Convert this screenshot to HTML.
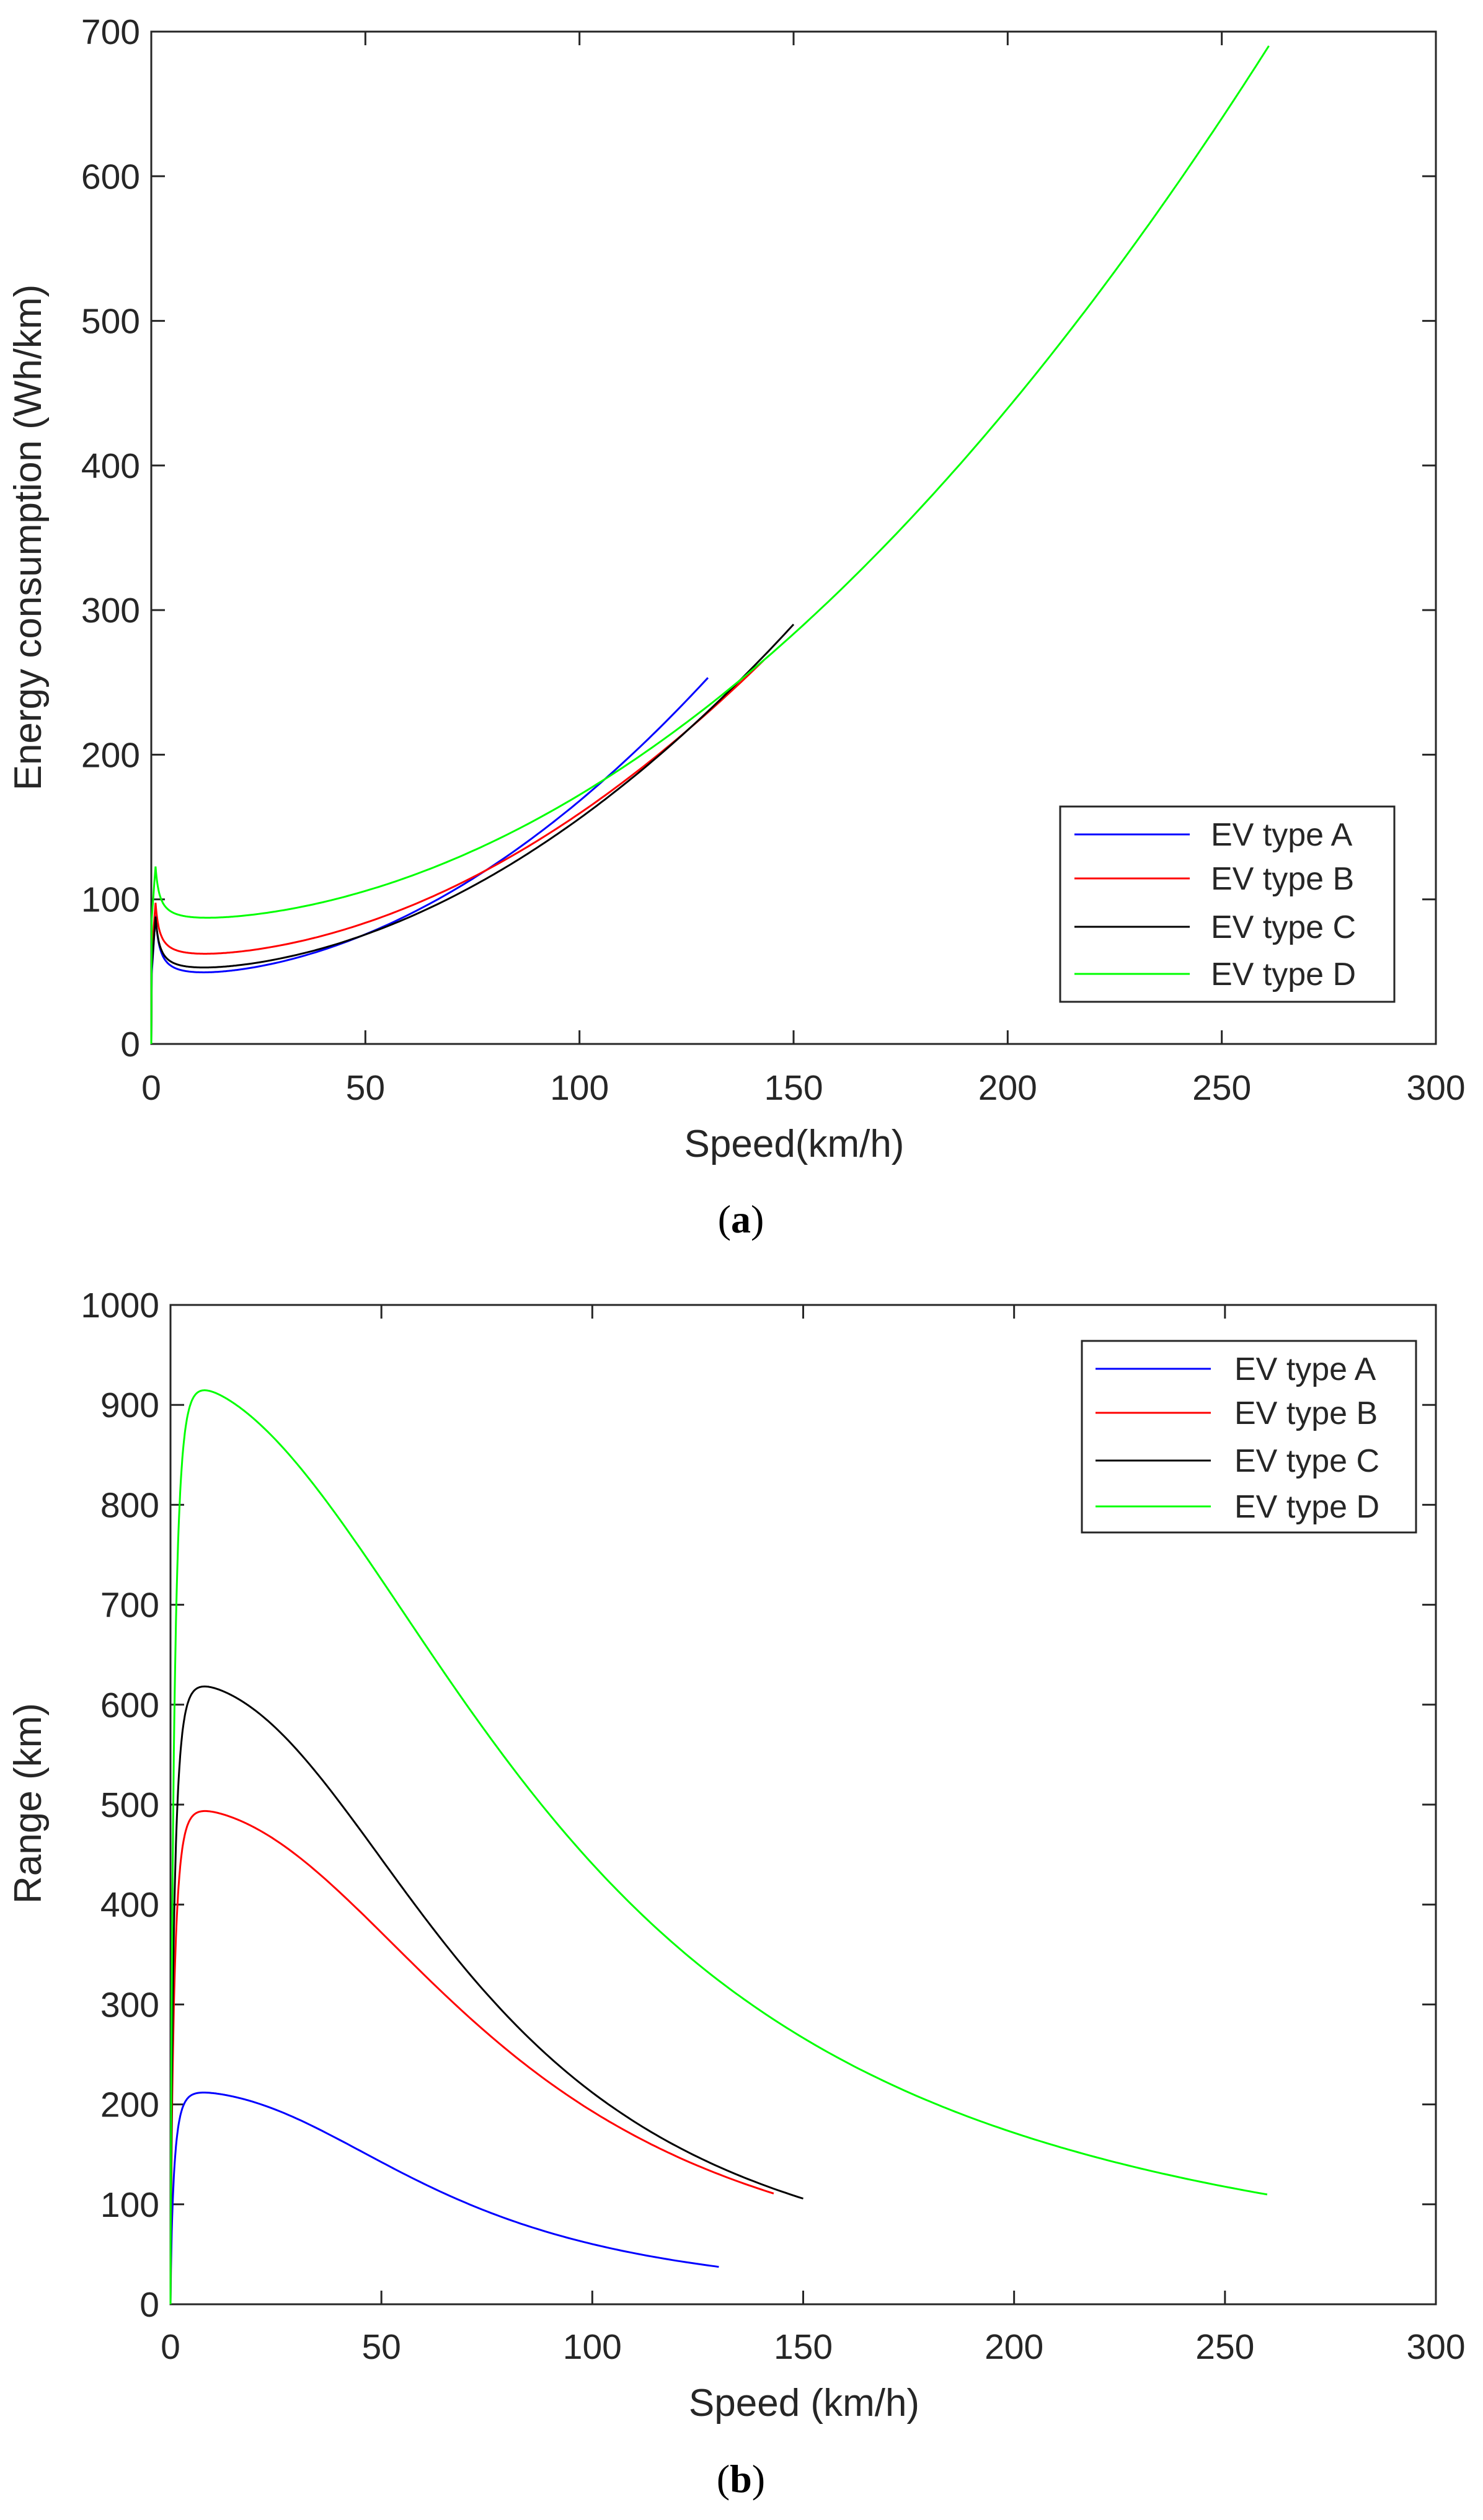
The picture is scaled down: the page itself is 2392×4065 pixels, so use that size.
<!DOCTYPE html>
<html><head><meta charset="utf-8"><style>
html,body{margin:0;padding:0;background:#fff;}
svg{display:block;}
text{font-family:"Liberation Sans",Arial,sans-serif;fill:#262626;}
.cap{font-family:"Liberation Serif",serif;fill:#000;}
</style></head><body>
<svg id="s" width="2392" height="4065" xmlns="http://www.w3.org/2000/svg">
<rect width="2392" height="4065" fill="#fff"/>
<g id="g"></g>
<text x="1281" y="1866" font-size="62" text-anchor="middle">Speed(km/h)</text>
<text transform="translate(66,867) rotate(-90)" font-size="62" text-anchor="middle">Energy consumption (Wh/km)</text>
<text class="cap" x="1195" y="1988" font-size="64" text-anchor="middle">(<tspan font-weight="bold">a</tspan>)</text>
<text x="1297" y="3897" font-size="62" text-anchor="middle">Speed (km/h)</text>
<text transform="translate(66,2909) rotate(-90)" font-size="62" text-anchor="middle">Range (km)</text>
<text class="cap" x="1195" y="4020" font-size="64" text-anchor="middle">(<tspan font-weight="bold">b</tspan>)</text>
</svg>
<script>
var NS="http://www.w3.org/2000/svg",g=document.getElementById('g');
function el(t,a,txt){var e=document.createElementNS(NS,t);for(var k in a)e.setAttribute(k,a[k]);if(txt!=null)e.textContent=txt;g.appendChild(e);return e;}
function axes(L,R,T,B,xmax,ymax,ystep,lblY){
 var xs=(R-L)/xmax, ys=(B-T)/ymax;
 for(var v=0;v<=xmax;v+=50){var x=L+v*xs;
  el('line',{x1:x,y1:B,x2:x,y2:B-22,stroke:'#262626','stroke-width':3});
  el('line',{x1:x,y1:T,x2:x,y2:T+22,stroke:'#262626','stroke-width':3});
  el('text',{x:x,y:lblY,'font-size':57,'text-anchor':'middle'},v);}
 for(var v=0;v<=ymax;v+=ystep){var y=B-v*ys;
  el('line',{x1:L,y1:y,x2:L+22,y2:y,stroke:'#262626','stroke-width':3});
  el('line',{x1:R,y1:y,x2:R-22,y2:y,stroke:'#262626','stroke-width':3});
  el('text',{x:L-18,y:y+20,'font-size':57,'text-anchor':'end'},v);}
 el('rect',{x:L,y:T,width:R-L,height:B-T,fill:'none',stroke:'#262626','stroke-width':3});
 return function(f,vmax,col){var d='M'+L+','+B;
  for(var v=0.1;v<=vmax+1e-9;v+=(v<20?0.1:1)){var y=f(v);d+=' L'+(L+v*xs).toFixed(1)+','+(B-y*ys).toFixed(1);}
  el('path',{d:d,fill:'none',stroke:col,'stroke-width':3});};
}
var cols=['#0000ff','#ff0000','#000000','#00ff00'];
// plot a
var pa=axes(244,2316,51,1684,300,700,100,1774);
var A=[[44,0.01236,45,130],[57.6,0.01014,40,143],[48,0.01075,40,150],[82.7,0.008915,40,261]];
A.forEach(function(p,i){pa(function(v){return p[0]+p[1]*v*v+p[2]/Math.max(v,1)*(v<1?v:1);},p[3],cols[i]);});
// plot b
var pb=axes(275,2316,2105,3717,300,1000,100,3805);
var Bp=[[214,67,2.34,130],[498,81.4,2.22,143],[624,74.7,2.28,150],[924,95.5,2.0,260]];
Bp.forEach(function(p,i){pb(function(v){var r=p[0]*(1-Math.exp(-Math.pow(v/0.9,0.8)))/(1+Math.pow(v/p[1],p[2]));return r;},p[3],cols[i]);});
// legends
function legend(x,y,w,h,lx1,lx2,tx,ys){
 el('rect',{x:x,y:y,width:w,height:h,fill:'#fff',stroke:'#262626','stroke-width':3});
 var n=['EV type A','EV type B','EV type C','EV type D'];
 ys.forEach(function(yy,i){el('line',{x1:lx1,y1:yy,x2:lx2,y2:yy,stroke:cols[i],'stroke-width':3});
  el('text',{x:tx,y:yy+18,'font-size':52},n[i]);});
}
legend(1710,1301,539,315,1733,1919,1953,[1346,1417,1495,1571]);
legend(1745,2163,539,309,1767,1953,1991,[2208,2279,2356,2430]);
</script>
</body></html>
